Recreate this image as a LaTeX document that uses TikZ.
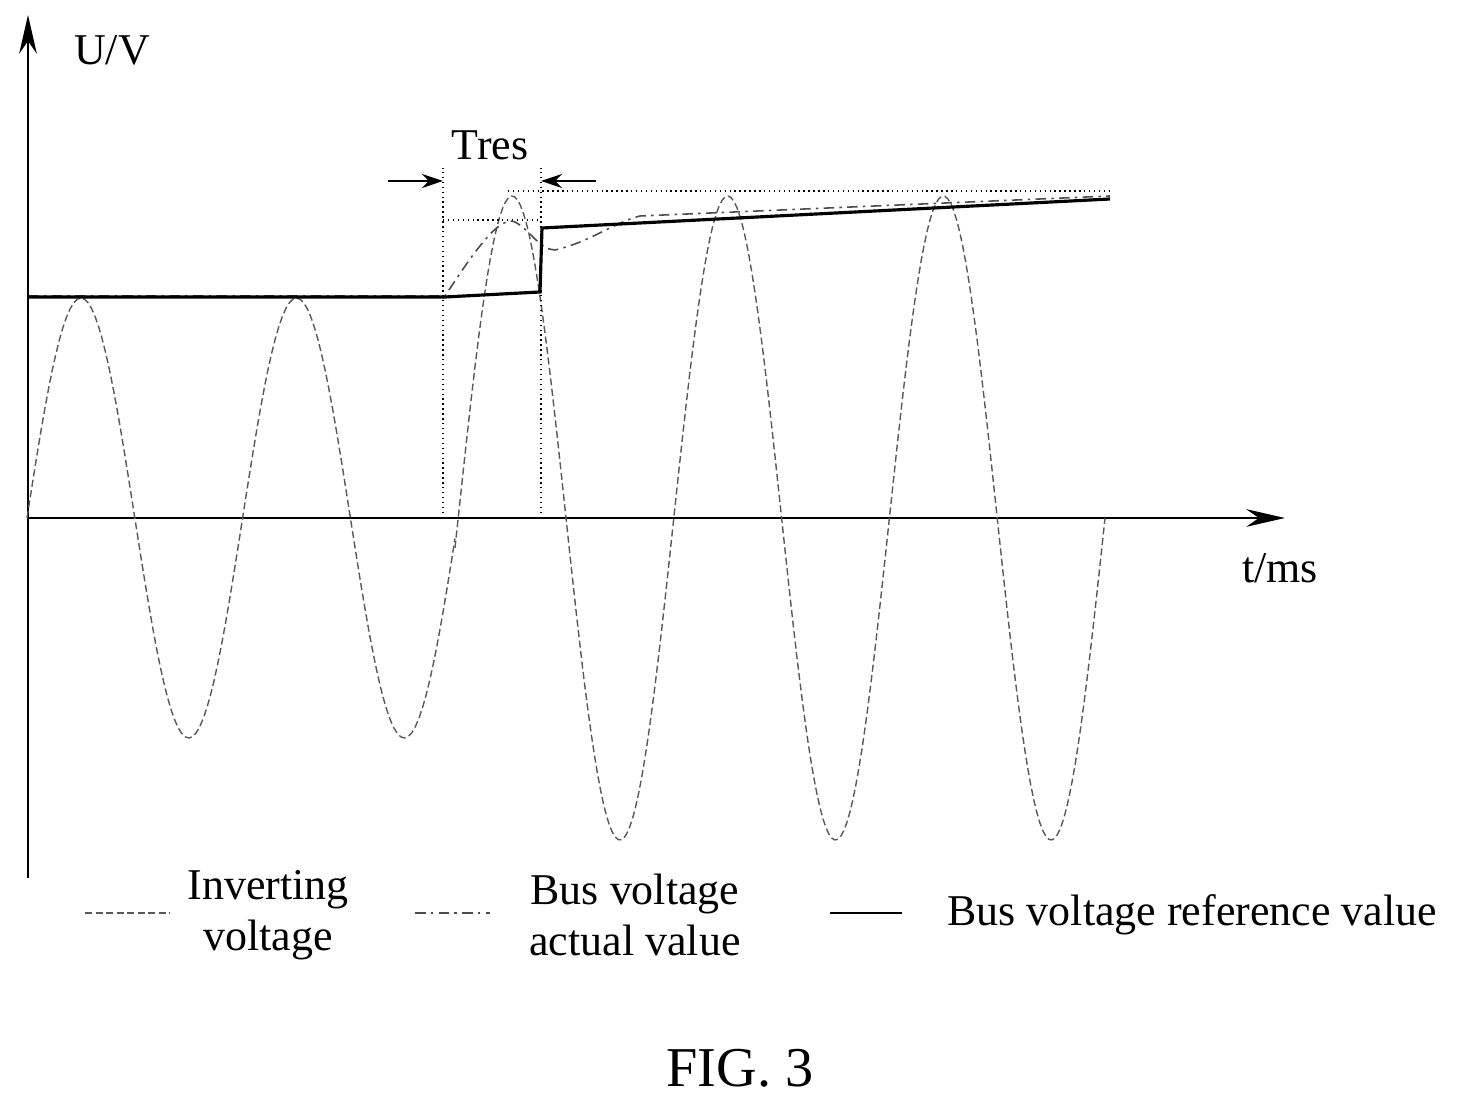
\documentclass[tikz,border=0pt]{standalone}
\usepackage{fontspec}
\setmainfont{Liberation Serif}
\usetikzlibrary{arrows.meta}
\tikzset{
  inv/.style={dash pattern=on 2pt off 1pt, line width=0.4pt, gray!70!black},
  act/.style={dash pattern=on 3pt off 1.5pt on 0.7pt off 1.5pt, line width=0.45pt, gray!60!black},
  ref/.style={line width=0.9pt},
  guide/.style={densely dotted, line width=0.4pt},
  lbl/.style={font=\fontsize{12.5pt}{14.5pt}\selectfont, align=center}
}
\begin{document}
\begin{tikzpicture}[x=0.01cm,y=-0.01cm,>=Stealth]
\useasboundingbox (0,0) rectangle (1470,1098);
% axes
\coordinate (o) at (28,518);
\coordinate (ytop) at (28,15);
\coordinate (xend) at (1285,518);
\draw [line width=0.8pt,-{Stealth[length=11pt,width=5pt]}] (28,878) -- (ytop);
\draw [line width=0.8pt,-{Stealth[length=11pt,width=5pt]}] (o) -- (xend);
\node [lbl] (uv) at (112,50) {U/V};
\node [lbl] (tms) at (1280,568) {t/ms};

% inverting voltage
\draw [inv] plot [domain=27:455,samples=120] (\x,{518-220*sin((\x-27)/215.6*360)});
\draw [inv] plot [domain=455:1105,samples=220] (\x,{518-322*sin((\x-27)/215.6*360)});

% guide lines
\draw [guide] (443,518) -- (443,168);
\draw [guide] (541,518) -- (541,168);
\draw [guide] (443,220) -- (541,220);
\draw [guide] (508,191) -- (1110,191);
\coordinate (a1) at (388,181);
\coordinate (a2) at (596,181);
\draw [line width=0.6pt,-{Stealth[length=6pt,width=4pt]}] (a1) -- (443,181);
\draw [line width=0.6pt,-{Stealth[length=6pt,width=4pt]}] (a2) -- (541,181);
\node [lbl] (tres) at (490,145) {Tres};

% bus voltage actual value
\draw [act] (28,296) -- (445,296) .. controls (475,250) and (500,215) .. (515,222)
  .. controls (530,230) and (540,250) .. (555,250)
  .. controls (590,242) and (615,222) .. (640,216) -- (1110,196);

% bus voltage reference value
\draw [ref] (28,297) -- (445,297) -- (540,292) -- (542,228) -- (1110,199);

% legend
\coordinate (l1) at (85,913);
\coordinate (l2) at (415,913);
\coordinate (l3) at (830,913);
\draw [inv] (l1) -- ++(85,0);
\draw [act] (l2) -- ++(75,0);
\draw [ref, line width=0.6pt] (l3) -- ++(72,0);
\node [lbl] (t1) at (268,915) {Inverting\\voltage};
\node [lbl] (t2) at (635,915) {Bus voltage\\actual value};
\node [lbl, anchor=west] (t3) at (935,915) {Bus voltage reference value};
\node [font=\fontsize{16pt}{19pt}\selectfont] (fig) at (740,1068) {FIG. 3};
\end{tikzpicture}
\end{document}
